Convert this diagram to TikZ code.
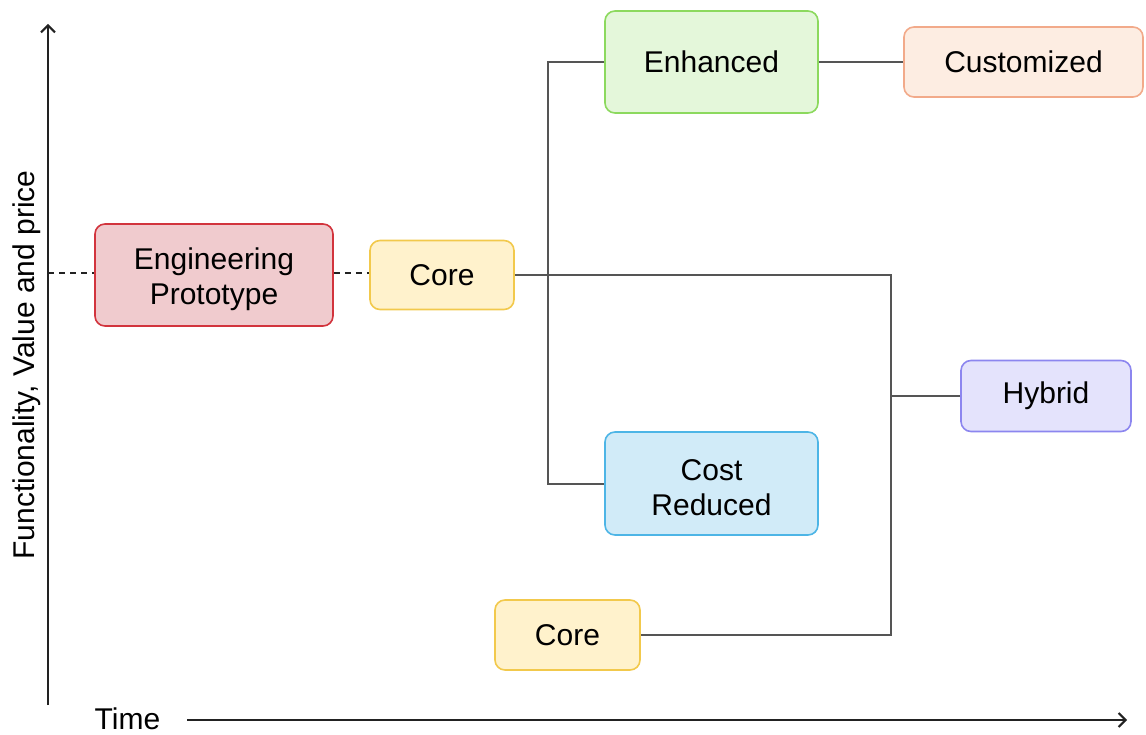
\documentclass[tikz,border=0pt]{standalone}
\usepackage{fontspec}
\setmainfont{Liberation Sans}
\usetikzlibrary{arrows.meta}

\definecolor{protoFill}{HTML}{F0CBCE}
\definecolor{protoLine}{HTML}{D2343D}
\definecolor{coreFill}{HTML}{FFF2CC}
\definecolor{coreLine}{HTML}{F2C94C}
\definecolor{enhFill}{HTML}{E4F7DA}
\definecolor{enhLine}{HTML}{8CD95E}
\definecolor{custFill}{HTML}{FDEDE2}
\definecolor{custLine}{HTML}{F2AA8A}
\definecolor{costFill}{HTML}{D1EBF8}
\definecolor{costLine}{HTML}{4DB5E6}
\definecolor{hybFill}{HTML}{E4E3FC}
\definecolor{hybLine}{HTML}{8C86EF}
\definecolor{linkGray}{HTML}{555555}
\definecolor{axisInk}{HTML}{222222}

% tall strut on the first of two lines, to centre the pair optically
\newcommand{\topstrut}{\rule{0pt}{30pt}}

\tikzset{
  box/.style={draw, rounded corners=10pt, line width=1.6pt, align=center,
    font=\fontsize{30}{35}\selectfont, inner sep=0pt},
  link/.style={draw=linkGray, line width=2pt},
  axis/.style={draw=axisInk, line width=2pt,
    -{Straight Barb[length=7pt,width=14pt,line width=2pt]}},
  guide/.style={draw=axisInk, line width=1.6pt, dash pattern=on 6pt off 5pt},
  lbl/.style={font=\fontsize{30}{35}\selectfont, inner sep=0pt}
}

\begin{document}
\begin{tikzpicture}[x=1pt,y=-1pt]
\useasboundingbox (0,0) rectangle (1146,735);

% axes
\coordinate (yorig) at (48,705);
\coordinate (ytop) at (48,24);
\coordinate (xstart) at (187,720);
\coordinate (xend) at (1127,720);
\draw[axis] (yorig) -- (ytop);
\draw[axis] (xstart) -- (xend);
\node[lbl] (tlabel) at (127.5,719) {Time};
\node[lbl, rotate=90] (ylabel) at (27,365) {Functionality, Value and price};

% stages
\node[box, fill=protoFill, draw=protoLine, minimum width=238pt, minimum height=102pt]
  (proto) at (214,275) {\topstrut Engineering\\Prototype};
\node[box, fill=coreFill, draw=coreLine, minimum width=144pt, minimum height=69pt]
  (core) at (442,275) {Core};
\node[box, fill=enhFill, draw=enhLine, minimum width=213pt, minimum height=102pt]
  (enh) at (711.5,62) {Enhanced};
\node[box, fill=custFill, draw=custLine, minimum width=239pt, minimum height=70pt]
  (cust) at (1023.5,62) {Customized};
\node[box, fill=costFill, draw=costLine, minimum width=213pt, minimum height=103pt]
  (cost) at (711.5,483.5) {\topstrut Cost\\Reduced};
\node[box, fill=coreFill, draw=coreLine, minimum width=145pt, minimum height=70pt]
  (core2) at (567.5,635) {Core};
\node[box, fill=hybFill, draw=hybLine, minimum width=170pt, minimum height=71pt]
  (hyb) at (1046,396) {Hybrid};

% dashed guide through the prototype
\coordinate (gleft) at (48,273);
\draw[guide] (gleft) -- (gleft -| proto.west);
\draw[guide] (proto.east |- gleft) -- (core.west |- gleft);

% branches
\coordinate (split) at (548,275);
\coordinate (merge) at (891,275);
\draw[link] (core.east) -- (merge) |- (core2.east);
\draw[link] (enh.west) -| (split) |- (cost.west);
\draw[link] (hyb.west) -- (hyb.west -| merge);
\draw[link] (enh.east) -- (cust.west);
\end{tikzpicture}
\end{document}
